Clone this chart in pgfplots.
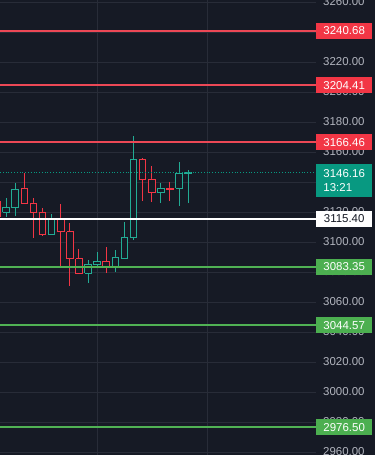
\documentclass[border=0pt]{standalone}
\usepackage{pgfplots}
\pgfplotsset{compat=1.18}
\usepackage{fontspec}
\setmainfont{Liberation Sans}
\definecolor{bgc}{RGB}{22,26,37}
\definecolor{gridc}{RGB}{40,44,56}
\definecolor{upc}{RGB}{34,171,148}
\definecolor{dnc}{RGB}{242,54,69}
\definecolor{redl}{RGB}{236,72,86}
\definecolor{greenl}{RGB}{80,178,84}
\definecolor{lblred}{RGB}{242,54,69}
\definecolor{lblgreen}{RGB}{76,175,80}
\definecolor{lblteal}{RGB}{8,153,129}
\definecolor{tickc}{RGB}{178,181,190}
\definecolor{darktxt}{RGB}{19,23,34}
% color, x-left, x, x-right, open, high, low, close
\newcommand{\candle}[8]{%
  \addplot[#1, line width=0.9bp] coordinates {(#3,#7) (#3,#6)};
  \addplot[draw=#1, fill=bgc, line width=0.9bp] coordinates {(#2,#5) (#4,#5) (#4,#8) (#2,#8) (#2,#5)};
}
\begin{document}
\begin{tikzpicture}
\begin{axis}[
  set layers,
  width=316bp, height=455bp, scale only axis,
  xmin=0.33, xmax=35.05, ymin=2958, ymax=3261.33,
  clip=false,
  axis line style={draw=none},
  major tick length=0pt,
  xtick={11,23.1}, xticklabels={},
  ytick={2960,2980,...,3260},
  yticklabel pos=right,
  scaled y ticks=false,
  /pgf/number format/assume math mode=true,
  yticklabel style={anchor=west, inner sep=0pt, xshift=7bp, text=tickc,
     font=\fontsize{11.5}{13}\selectfont,
     /pgf/number format/.cd, fixed, fixed zerofill, precision=2, 1000 sep={}},
  xmajorgrids, ymajorgrids,
  grid style={gridc, line width=0.8bp},
]
\begin{pgfonlayer}{axis background}
\fill[bgc] (rel axis cs:-0.1,-0.1) rectangle (rel axis cs:1.4,1.1);
\end{pgfonlayer}

\candle{dnc}{-0.36}{0}{0.36}{3126.7}{3128.5}{3115.5}{3117.3}
\candle{upc}{0.64}{1}{1.36}{3120.0}{3129.3}{3116.7}{3122.7}
\candle{upc}{1.64}{2}{2.36}{3122.7}{3139.3}{3117.3}{3135.3}
\candle{dnc}{2.64}{3}{3.36}{3136.0}{3146.0}{3126.0}{3126.0}
\candle{dnc}{3.64}{4}{4.36}{3126.0}{3129.3}{3102.7}{3120.0}
\candle{dnc}{4.64}{5}{5.36}{3120.0}{3122.7}{3104.0}{3105.3}
\candle{upc}{5.64}{6}{6.36}{3105.3}{3118.7}{3104.7}{3116.0}
\candle{dnc}{6.64}{7}{7.36}{3116.0}{3125.3}{3082.7}{3106.7}
\candle{dnc}{7.64}{8}{8.36}{3106.7}{3112.7}{3070.7}{3088.7}
\candle{dnc}{8.64}{9}{9.36}{3088.7}{3095.3}{3078.7}{3079.3}
\candle{upc}{9.64}{10}{10.36}{3079.3}{3088.0}{3072.7}{3085.3}
\candle{upc}{10.64}{11}{11.36}{3084.7}{3093.3}{3083.3}{3087.3}
\candle{dnc}{11.64}{12}{12.36}{3087.3}{3096.7}{3079.3}{3083.3}
\candle{upc}{12.64}{13}{13.36}{3083.3}{3094.7}{3080.0}{3090.0}
\candle{upc}{13.64}{14}{14.36}{3089.3}{3113.3}{3089.3}{3103.3}
\candle{upc}{14.64}{15}{15.36}{3102.7}{3170.7}{3101.3}{3154.7}
\candle{dnc}{15.64}{16}{16.36}{3154.7}{3156.0}{3127.3}{3142.0}
\candle{dnc}{16.64}{17}{17.36}{3142.0}{3150.7}{3126.7}{3132.7}
\candle{upc}{17.64}{18}{18.36}{3132.7}{3139.3}{3126.0}{3136.0}
\candle{dnc}{18.64}{19}{19.36}{3136.0}{3140.0}{3127.3}{3135.3}
\candle{upc}{19.64}{20}{20.36}{3136.0}{3153.3}{3124.0}{3146.0}
\candle{upc}{20.64}{21}{21.36}{3146.0}{3148.0}{3126.0}{3146.16}

% current price line
\addplot[lblteal, dotted, line width=0.8bp] coordinates {(0.33,3146.16) (35.05,3146.16)};
% levels
\addplot[redl, line width=2bp] coordinates {(0.33,3240.68) (35.05,3240.68)};
\addplot[redl, line width=2bp] coordinates {(0.33,3204.41) (35.05,3204.41)};
\addplot[redl, line width=2bp] coordinates {(0.33,3166.46) (35.05,3166.46)};
\addplot[white, line width=2.4bp] coordinates {(0.33,3115.40) (35.05,3115.40)};
\addplot[greenl, line width=2bp] coordinates {(0.33,3083.35) (35.05,3083.35)};
\addplot[greenl, line width=2bp] coordinates {(0.33,3044.57) (35.05,3044.57)};
\addplot[greenl, line width=2bp] coordinates {(0.33,2976.50) (35.05,2976.50)};

\tikzset{lbl/.style={anchor=west, minimum width=56bp, minimum height=16bp, inner sep=0pt, font=\fontsize{11.5}{13}\selectfont}}
\node[lbl, fill=lblred, text=white] at (axis cs:35.05,3240.68) {3240.68};
\node[lbl, fill=lblred, text=white] at (axis cs:35.05,3204.41) {3204.41};
\node[lbl, fill=lblred, text=white] at (axis cs:35.05,3166.46) {3166.46};
\node[lbl, fill=white, text=darktxt] at (axis cs:35.05,3115.40) {3115.40};
\node[lbl, fill=lblgreen, text=white] at (axis cs:35.05,3083.35) {3083.35};
\node[lbl, fill=lblgreen, text=white] at (axis cs:35.05,3044.57) {3044.57};
\node[lbl, fill=lblgreen, text=white] at (axis cs:35.05,2976.50) {2976.50};
\node[anchor=north west, fill=lblteal, text=white, minimum width=56bp, minimum height=33bp, inner sep=0pt, align=left, font=\fontsize{11.5}{13.7}\selectfont] at (axis cs:35.05,3152) {3146.16\\13:21};
\end{axis}
\pgfresetboundingbox
\useasboundingbox (0,0) rectangle (375bp,455bp);
\end{tikzpicture}
\end{document}
